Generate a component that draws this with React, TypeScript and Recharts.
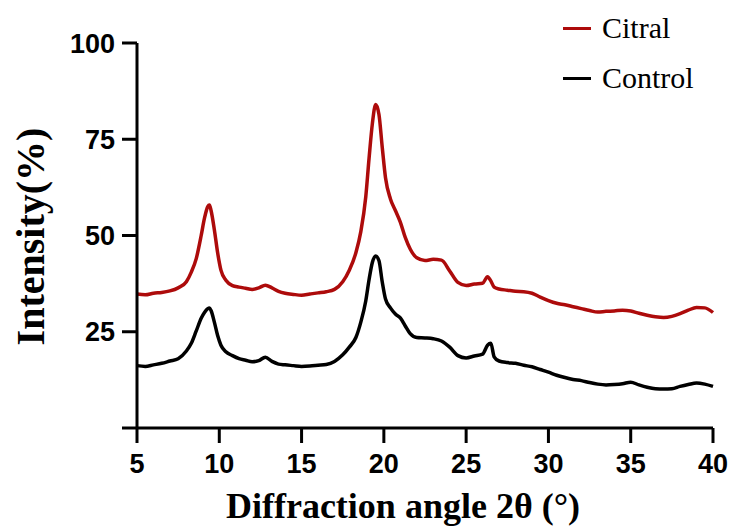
import React from "react";
import { LineChart, Line, XAxis, YAxis, Label } from "recharts";

// 2θ positions (denser around the peaks)
const ANGLES = [
  5, 5.5, 6, 6.5, 7, 7.5, 8, 8.3, 8.6, 8.9, 9.1, 9.3, 9.4, 9.5, 9.7, 9.9, 10.1, 10.4, 10.8,
  11.2, 11.6, 12, 12.4, 12.8, 13.2, 13.6, 14, 14.5, 15, 15.5, 16, 16.5, 17, 17.5, 17.9, 18.3,
  18.6, 18.9, 19.1, 19.3, 19.5, 19.7, 19.9, 20.1, 20.4, 20.7, 21, 21.3, 21.6, 22, 22.5, 23,
  23.5, 24, 24.5, 25, 25.5, 26, 26.3, 26.5, 26.7, 27, 27.5, 28, 28.5, 29, 29.5, 30, 30.5, 31,
  31.5, 32, 32.5, 33, 33.5, 34, 34.5, 35, 35.5, 36, 36.5, 37, 37.5, 38, 38.5, 39, 39.5, 40,
];

const CITRAL = [
  34.8, 34.6, 35, 35.2, 35.6, 36.4, 38, 40.5, 44, 50, 54.5, 57.5, 57.9, 56.5, 51.5, 45.5, 41,
  38.4, 37, 36.6, 36.3, 36, 36.4, 37.1, 36.4, 35.5, 35, 34.7, 34.5, 34.8, 35.1, 35.4, 36, 38,
  41, 45.5, 51, 60, 70, 79, 84, 81.5, 73, 65, 59.5, 56.5, 53.5, 49.5, 46.5, 44.2, 43.5, 43.8,
  43.6, 40.8, 37.8, 37, 37.4, 37.6, 39.3, 38.2, 36.6, 36.1, 35.8, 35.5, 35.4, 35, 34, 33.1,
  32.4, 32, 31.5, 31, 30.5, 30.1, 30.3, 30.4, 30.6, 30.4, 29.8, 29.3, 28.9, 28.7, 29, 29.7,
  30.6, 31.3, 31.2, 30,
];

const CONTROL = [
  16.2, 16, 16.4, 16.8, 17.4, 18, 20, 22, 25.2, 28.5, 30, 31, 31.2, 30.5, 27.5, 24, 21.5, 19.8,
  18.8, 18, 17.6, 17.2, 17.5, 18.4, 17.3, 16.6, 16.4, 16.2, 16, 16.1, 16.3, 16.5, 17.3, 19, 21,
  23.5, 27.5, 33, 38.5, 43, 44.7, 43.5, 38, 33.5, 31.2, 29.6, 28.6, 26.5, 24.5, 23.5, 23.4,
  23.2, 22.6, 21, 18.8, 18.2, 18.7, 19.2, 21.5, 22, 18.5, 17.4, 17, 16.8, 16.3, 15.9, 15.2,
  14.5, 13.7, 13.1, 12.6, 12.3, 11.8, 11.4, 11.2, 11.3, 11.5, 11.9, 11.2, 10.6, 10.2, 10.1,
  10.2, 10.8, 11.3, 11.7, 11.4, 10.8,
];

const X_TICKS = [5, 10, 15, 20, 25, 30, 35, 40];
const Y_TICKS = [0, 25, 50, 75, 100];

const SERIES = [
  { key: "citral", name: "Citral", color: "#ad0b0b" },
  { key: "control", name: "Control", color: "#000000" },
];

const data = ANGLES.map((x, i) => ({ x, citral: CITRAL[i], control: CONTROL[i] }));

const tickFont = { fontFamily: '"Liberation Sans", Arial, sans-serif', fontSize: 27, fontWeight: 700, fill: "#000" };
const serif = '"Liberation Serif", "Times New Roman", serif';

export default function App() {
  return (
    <div style={{ position: "absolute", left: 0, top: 0, width: 731, height: 527, background: "#fff" }}>
      <LineChart width={731} height={527} data={data} margin={{ top: 43, right: 18, bottom: 0, left: 0 }}>
        <XAxis
          dataKey="x"
          type="number"
          domain={[5, 40]}
          ticks={X_TICKS}
          height={99}
          tickSize={15}
          tickMargin={11}
          tick={tickFont}
          axisLine={{ stroke: "#000", strokeWidth: 3 }}
          tickLine={{ stroke: "#000", strokeWidth: 3 }}
        >
          <Label
            content={({ viewBox }: any) => (
              <text
                x={viewBox.x + viewBox.width / 2 - 22}
                y={viewBox.y + viewBox.height - 9}
                textAnchor="middle"
                fontFamily={serif}
                fontSize={36}
                fontWeight={700}
                fill="#000"
              >
                Diffraction angle 2θ (°)
              </text>
            )}
          />
        </XAxis>
        <YAxis
          type="number"
          domain={[0, 100]}
          ticks={Y_TICKS}
          width={137}
          tickSize={15}
          tickMargin={7}
          tick={tickFont}
          tickFormatter={(v) => (v === 0 ? "" : String(v))}
          axisLine={{ stroke: "#000", strokeWidth: 3 }}
          tickLine={{ stroke: "#000", strokeWidth: 3 }}
        >
          <Label
            content={({ viewBox }: any) => {
              const cx = 30;
              const cy = viewBox.y + viewBox.height / 2 + 1;
              return (
                <text
                  x={cx}
                  y={cy}
                  transform={`rotate(-90 ${cx} ${cy})`}
                  textAnchor="middle"
                  dominantBaseline="central"
                  fontFamily={serif}
                  fontSize={40}
                  fontWeight={700}
                  fill="#000"
                >
                  Intensity(%)
                </text>
              );
            }}
          />
        </YAxis>
        {SERIES.map((s) => (
          <Line
            key={s.key}
            dataKey={s.key}
            name={s.name}
            type="monotone"
            stroke={s.color}
            strokeWidth={3.5}
            dot={false}
            isAnimationActive={false}
          />
        ))}
      </LineChart>

      {/* legend, top right */}
      <div style={{ position: "absolute", left: 563, top: 3, fontFamily: serif, fontSize: 30, color: "#000" }}>
        {SERIES.map((s) => (
          <div key={s.key} style={{ display: "flex", alignItems: "center", height: 50 }}>
            <span style={{ display: "inline-block", width: 28, height: 3, background: s.color, marginRight: 11 }} />
            {s.name}
          </div>
        ))}
      </div>
    </div>
  );
}
